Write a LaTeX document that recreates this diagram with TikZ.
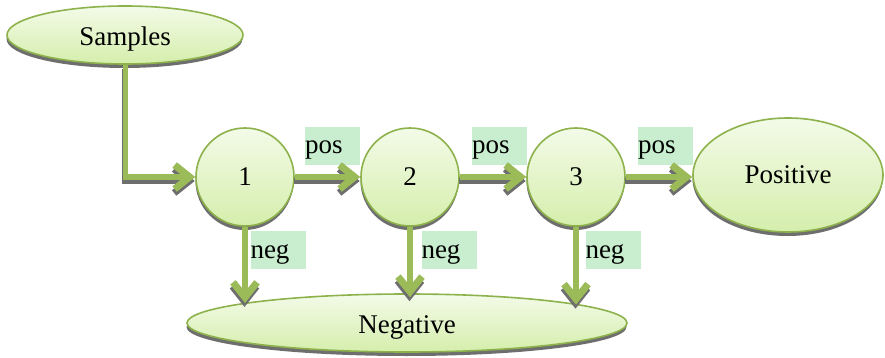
\documentclass[tikz,border=0pt]{standalone}
\usepackage{fontspec}
\setmainfont{Liberation Serif}
\usetikzlibrary{arrows.meta,shadows,calc,shapes.geometric}
\definecolor{edgegreen}{HTML}{8DB24C}
\definecolor{arrowgreen}{HTML}{9BBB59}
\definecolor{topfill}{HTML}{F3FBE8}
\definecolor{botfill}{HTML}{D5EEAC}
\definecolor{labelfill}{HTML}{C8EECF}
\definecolor{shadowgray}{HTML}{6E6E6E}
\newcommand{\lowered}[2]{\raisebox{-#1}[\height][\depth]{#2}}
\tikzset{
  blob/.style={draw=edgegreen, line width=1.6pt, top color=topfill, bottom color=botfill,
    drop shadow={shadow xshift=-0.5pt, shadow yshift=-4pt, fill=shadowgray, opacity=1},
    font=\fontsize{27}{31}\selectfont, inner sep=0pt},
  ovalbox/.style={blob, ellipse},
  roundbox/.style={blob, circle, minimum size=98pt},
  tagbox/.style={fill=labelfill, minimum width=55pt, minimum height=38pt, inner sep=0pt,
    text width=55pt, align=left, font=\fontsize{27}{31}\selectfont},
  tip/.style={-{Straight Barb[length=15pt,width=24pt,line width=7pt]}},
  flow/.style={draw=arrowgreen, line width=5.5pt, tip,
    preaction={draw=shadowgray, line width=5.5pt, tip, transform canvas={shift={(-0.5pt,-4pt)}}}},
  flowline/.style={draw=arrowgreen, line width=5pt,
    preaction={draw=shadowgray, line width=5pt, transform canvas={shift={(-0.5pt,-4pt)}}}},
}
\begin{document}
\begin{tikzpicture}[x=1pt,y=-1pt]
\useasboundingbox (0,0) rectangle (885,358);
\node[ovalbox, minimum width=236pt, minimum height=58pt] (samples) at (125,35) {\lowered{4pt}{Samples}\hspace{14pt}};
\node[roundbox] (c1) at (245,177) {1};
\node[roundbox] (c2) at (410,177) {2};
\node[roundbox] (c3) at (576,177) {3};
\node[ovalbox, minimum width=190pt, minimum height=114pt] (positive) at (788,175) {Positive};
\node[ovalbox, minimum width=440pt, minimum height=58pt] (negative) at (407,323) {\lowered{4pt}{Negative}};

\node[tagbox] (p1) at (332.5,146) {\lowered{4pt}{pos}};
\node[tagbox] (p2) at (499.5,146) {\lowered{4pt}{pos}};
\node[tagbox] (p3) at (665.5,146) {\lowered{4pt}{pos}};
\node[tagbox] (n1) at (278,250) {\lowered{4pt}{neg}};
\node[tagbox] (n2) at (449,250) {\lowered{4pt}{neg}};
\node[tagbox] (n3) at (613,250) {\lowered{4pt}{neg}};

\coordinate (bend) at (samples.south |- c1.west);
\draw[flowline] (samples.south) -- ([yshift=2.5pt]bend);
\draw[flow] ([xshift=-2.5pt]bend) -- (c1.west);
\draw[flow] (c1.east) -- (c2.west);
\draw[flow] (c2.east) -- (c3.west);
\draw[flow] (c3.east) -- (c3.east -| positive.west);
\draw[flow] (c1.south) -- (c1.south |- negative.173);
\draw[flow] (c2.south) -- ($(c2.south |- negative.north)+(0,4)$);
\draw[flow] (c3.south) -- (c3.south |- negative.6);
\end{tikzpicture}
\end{document}
